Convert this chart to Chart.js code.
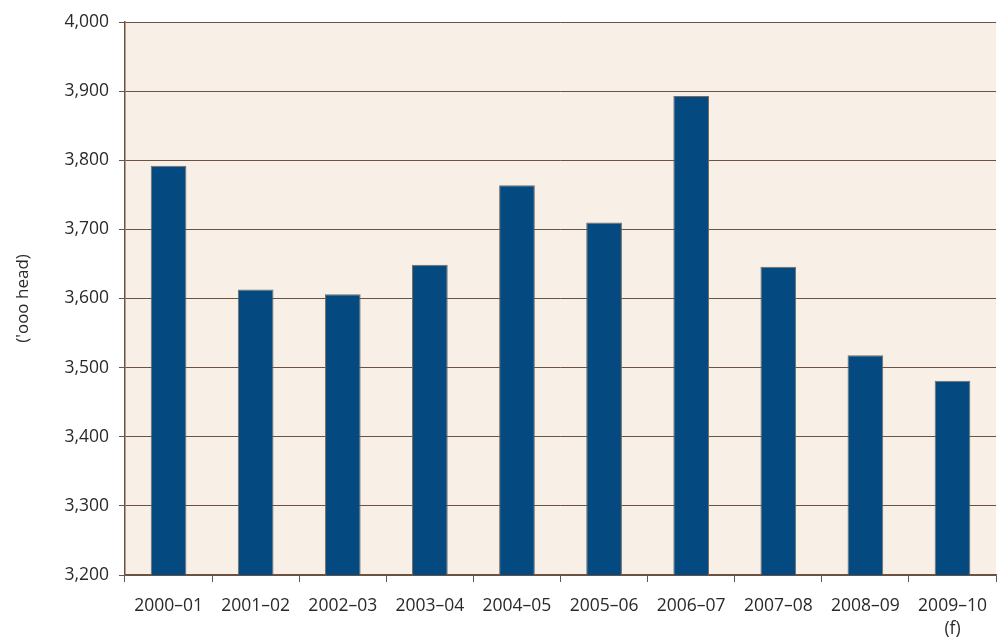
<!DOCTYPE html>
<html>
<head>
<meta charset="utf-8">
<script src="https://cdn.jsdelivr.net/npm/chart.js@4"></script>
<style>
    html, body { margin: 0; padding: 0; background: #fff; }
    #wrap { width: 999px; height: 642px; }
</style>
</head>
<body>
<div id="wrap"><canvas id="chart" width="999" height="642"></canvas></div>
<script>
// data
const seasons = ['2000–01', '2001–02', '2002–03', '2003–04', '2004–05', '2005–06', '2006–07', '2007–08', '2008–09', ['2009–10', '(f)']];
const headCount = [3792, 3613, 3606, 3649, 3764, 3710, 3893, 3646, 3518, 3481];
const yMin = 3200;
const yMax = 4000;
const yStep = 100;

const BROWN = '#6b5243';
const FONT = "'Open Sans', 'DejaVu Sans', sans-serif";

// cream panel behind the bars
const plotBackground = {
    id: 'plotBackground',
    beforeDraw(chart) {
        const { ctx, chartArea: a } = chart;
        ctx.save();
        ctx.fillStyle = '#f8f0e6';
        ctx.fillRect(a.left, a.top, a.right - a.left, a.bottom - a.top);
        ctx.restore();
    }
};

const ctx = document.getElementById('chart').getContext('2d');
new Chart(ctx, {
    type: 'bar',
    data: {
        labels: seasons,
        datasets: [{
            data: headCount,
            backgroundColor: '#044a80',
            borderColor: '#7a6a60',
            borderWidth: 1,
            categoryPercentage: 1,
            barPercentage: 0.41
        }]
    },
    options: {
        responsive: false,
        animation: false,
        layout: { padding: { top: 22, right: 2, left: 0, bottom: 0 } },
        plugins: { legend: { display: false }, tooltip: { enabled: false } },
        scales: {
            x: {
                grid: { display: true, drawOnChartArea: false, color: BROWN, tickLength: 7, offset: true },
                border: { color: BROWN, width: 1.5 },
                ticks: {
                    color: '#2a2a2a',
                    font: { family: FONT, size: 17.5, lineHeight: 1.35 },
                    maxRotation: 0,
                    autoSkip: false,
                    padding: 12
                },
                afterFit(scale) { scale.height = 67; }
            },
            y: {
                min: yMin,
                max: yMax,
                ticks: {
                    stepSize: yStep,
                    color: '#2a2a2a',
                    font: { family: FONT, size: 17.5 },
                    padding: 10,
                    callback: v => v.toLocaleString('en-US')
                },
                grid: { color: BROWN, tickLength: 6 },
                border: { color: BROWN, width: 1.5 },
                title: {
                    display: true,
                    text: "('ooo head)",
                    color: '#2a2a2a',
                    font: { family: FONT, size: 17 },
                    padding: { top: 13, bottom: 0 }
                },
                afterFit(scale) { scale.width = 125; }
            }
        }
    },
    plugins: [plotBackground]
});
</script>
</body>
</html>
